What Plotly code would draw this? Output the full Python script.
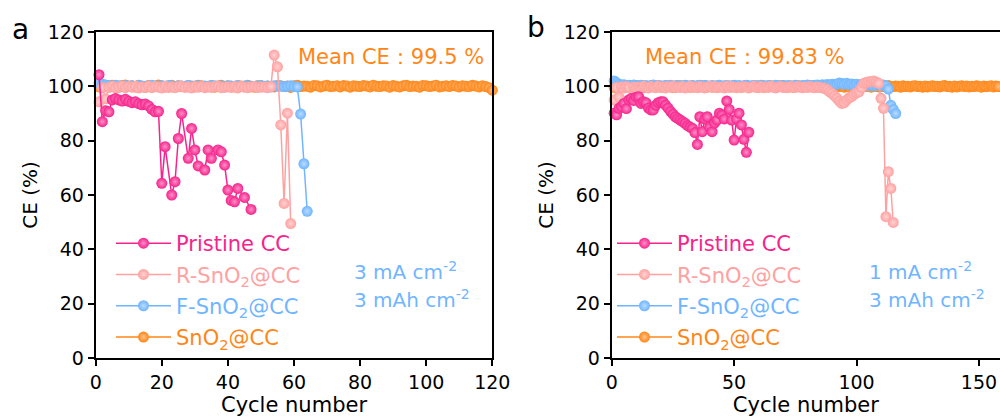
import plotly.graph_objects as go

# ---------------- data: panel a (3 mA cm-2, 3 mAh cm-2) ----------------
pristine_a_x = [1, 2, 3, 4, 5, 6, 7, 8, 9, 10, 11, 12, 13, 14, 15, 16, 17, 18, 19, 20, 21,
                23, 24, 25, 26, 28, 29, 30, 31, 33, 34, 35, 37, 38, 39, 40, 41, 42, 43, 45, 47]
pristine_a_y = [104.3, 87.0, 91.0, 90.6, 95.0, 95.5, 95.0, 94.6, 95.2, 94.5,
                94.0, 94.3, 93.6, 93.2, 93.5, 92.8, 91.5, 90.6, 90.8, 64.3,
                77.8, 60.0, 64.9, 80.8, 90.0, 73.5, 84.5, 76.6, 70.7, 69.2,
                76.6, 73.5, 76.6, 75.9, 71.0, 61.8, 58.0, 57.5, 62.4, 59.1, 54.7]

rsno2_a_y = [94.3, 99.5, 95.4, 99.6, 100.0, 99.4, 99.8, 100.1, 99.5, 99.9,
             99.7, 100.0, 99.4, 99.8, 99.6, 100.1, 99.5, 99.9, 99.7, 99.4,
             100.0, 99.6, 99.8, 99.5, 99.9, 100.1, 99.6, 99.8, 99.4, 99.9,
             99.7, 100.0, 99.5, 99.8, 99.6, 99.9, 100.0, 99.5, 99.7, 99.8,
             99.6, 99.9, 99.4, 100.0, 99.7, 99.5, 99.8, 99.9, 99.6, 99.7,
             99.8, 99.5, 99.9, 111.5, 107.2, 85.8, 56.9, 90.1, 49.5]

fsno2_a_y = [101.2, 100.8, 100.5, 100.3, 100.1, 100.4, 100.2, 100.0, 100.3, 100.1,
             100.2, 99.9, 100.3, 100.1, 100.0, 100.2, 100.4, 100.1, 99.9, 100.2,
             100.0, 100.3, 100.1, 99.8, 100.2, 100.1, 100.0, 100.3, 99.9, 100.1,
             100.2, 100.0, 100.1, 99.9, 100.3, 100.2, 100.0, 100.1, 99.8, 100.2,
             100.1, 100.0, 100.3, 99.9, 100.1, 100.2, 100.0, 99.9, 100.1, 100.2,
             100.0, 100.1, 99.8, 100.2, 100.0, 100.1, 99.9, 100.0, 100.2, 99.9,
             99.8, 89.8, 71.5, 54.0]

sno2_a_y = [99.8, 100.6, 100.2, 99.9, 100.4, 100.1, 99.7, 100.3, 100.5, 99.9,
            100.2, 99.8, 100.4, 100.0, 99.6, 100.3, 100.1, 99.9, 100.5, 100.2,
            99.8, 100.1, 100.4, 99.7, 100.2, 100.0, 99.9, 100.3, 100.1, 99.8,
            100.4, 100.2, 99.9, 100.0, 100.3, 99.7, 100.1, 100.4, 99.9, 100.2,
            100.0, 99.8, 100.3, 100.1, 99.9, 100.4, 100.0, 99.7, 100.2, 100.3,
            99.9, 100.1, 100.0, 99.8, 100.3, 100.2, 99.9, 100.1, 99.6, 100.2,
            100.4, 99.9, 100.1, 100.0, 99.7, 100.3, 100.2, 99.8, 100.1, 100.4,
            99.9, 100.0, 100.2, 99.8, 100.3, 100.1, 99.7, 100.2, 100.0, 99.9,
            100.3, 100.1, 99.8, 100.4, 100.0, 99.9, 100.2, 100.1, 99.7, 100.3,
            100.0, 99.8, 100.2, 100.4, 99.9, 100.1, 100.0, 99.7, 100.3, 100.2,
            99.9, 100.1, 100.4, 99.8, 100.0, 100.2, 99.9, 100.3, 100.1, 99.8,
            100.2, 100.0, 99.9, 100.4, 100.1, 99.8, 100.2, 99.9, 99.5, 98.6]

# ---------------- data: panel b (1 mA cm-2, 3 mAh cm-2) ----------------
pristine_b_y = [90.1, 89.5, 91.9, 92.5, 93.7, 91.8, 95.0, 95.5, 94.8, 96.0,
                96.2, 93.7, 94.3, 94.0, 92.0, 91.3, 91.3, 93.0, 94.0, 94.3,
                94.3, 93.1, 92.0, 90.8, 89.8, 88.8, 88.2, 87.6, 87.0, 86.4,
                85.5, 85.0, 84.5, 83.0, 78.6, 88.8, 83.3, 88.0, 88.8, 85.0,
                83.3, 86.5, 87.6, 90.1, 89.4, 88.0, 94.6, 91.5, 87.6, 80.2,
                88.0, 90.1, 85.8, 80.5, 75.7, 83.1]

rsno2_b_y = [95.0, 99.6, 96.0, 99.8, 99.4, 99.9, 99.5, 95.6, 99.7, 99.3,
             99.8, 99.5, 100.0, 99.6, 99.4, 99.9, 99.7, 99.5, 100.1, 99.6,
             99.8, 99.4, 99.9, 99.7, 100.0, 99.5, 99.8, 99.6, 99.9, 99.4,
             99.7, 100.0, 99.6, 99.8, 99.5, 99.9, 99.7, 99.4, 99.8, 100.0,
             99.6, 99.9, 99.5, 99.7, 99.8, 99.4, 100.0, 99.6, 99.9, 99.7,
             99.5, 99.8, 99.6, 99.9, 99.7, 99.4, 99.8, 100.0, 99.6, 99.7,
             99.9, 99.5, 99.8, 99.6, 100.0, 99.7, 99.4, 99.8, 99.9, 99.6,
             99.7, 99.5, 99.9, 99.8, 99.6, 100.0, 99.7, 99.5, 99.8, 99.6,
             99.9, 99.7, 99.5, 99.8, 99.6, 99.4, 99.3, 98.8, 98.0, 97.4,
             96.5, 95.6, 94.6, 93.7, 94.0, 95.0, 95.8, 96.2, 97.0, 97.6,
             98.0, 99.5, 101.1, 101.4, 101.7, 101.7, 102.0, 101.6, 101.1, 95.6,
             91.9, 52.0, 68.6, 62.4, 49.9]

fsno2_b_y = [102.0, 101.3, 100.8, 100.5, 100.6, 100.3, 100.4, 100.2, 100.5, 100.3,
             100.2, 100.4, 100.1, 100.3, 100.0, 100.2, 100.5, 100.1, 100.3, 100.2,
             100.0, 100.3, 100.2, 100.4, 100.1, 100.2, 100.0, 100.3, 100.1, 100.4,
             100.2, 100.1, 100.3, 100.0, 100.2, 100.4, 100.1, 100.3, 100.2, 100.0,
             100.3, 100.1, 100.2, 100.4, 100.0, 100.2, 100.3, 100.1, 100.2, 100.4,
             100.1, 100.3, 100.0, 100.2, 100.4, 100.1, 100.2, 100.3, 100.0, 100.2,
             100.4, 100.2, 100.1, 100.3, 100.2, 100.0, 100.4, 100.1, 100.3, 100.2,
             100.1, 100.3, 100.2, 100.0, 100.4, 100.2, 100.1, 100.3, 100.2, 100.5,
             100.3, 100.2, 100.4, 100.5, 100.3, 100.6, 100.4, 100.7, 100.5, 100.8,
             100.6, 100.9, 101.2, 101.0, 100.8, 101.1, 100.7, 100.9, 100.6, 100.8,
             100.5, 100.7, 100.4, 100.6, 100.3, 100.5, 100.2, 100.4, 100.6, 100.3,
             100.5, 100.2, 99.0, 93.0, 91.5, 90.0]

sno2_b_y = [99.6, 100.1, 99.8, 100.3, 99.9, 100.0, 99.7, 100.2, 99.8, 100.1,
            99.9, 100.3, 99.6, 100.0, 99.8, 100.2, 99.9, 99.7, 100.1, 100.0,
            99.8, 100.2, 99.9, 100.1, 99.6, 100.0, 100.3, 99.8, 99.9, 100.1,
            100.0, 99.7, 100.2, 99.9, 100.1, 99.8, 100.0, 100.3, 99.7, 99.9,
            100.1, 99.8, 100.0, 100.2, 99.9, 99.6, 100.1, 100.0, 99.8, 100.2,
            99.9, 100.0, 99.7, 100.1, 100.3, 99.8, 99.9, 100.0, 100.2, 99.7,
            100.0, 100.1, 99.8, 99.9, 100.2, 100.0, 99.7, 100.1, 99.9, 100.3,
            99.8, 100.0, 100.1, 99.7, 99.9, 100.2, 100.0, 99.8, 100.1, 99.9,
            100.2, 99.8, 100.0, 99.9, 100.3, 99.7, 100.1, 100.0, 99.8, 99.9,
            100.1, 100.2, 99.9, 100.0, 99.7, 100.1, 99.8, 100.3, 99.9, 100.0,
            99.8, 100.1, 100.0, 99.9, 100.2, 99.7, 100.0, 100.1, 99.8, 100.2,
            99.9, 100.0, 100.3, 99.8, 99.9, 100.1, 100.0, 99.7, 100.2, 99.9,
            100.0, 99.8, 100.1, 100.2, 99.9, 100.0, 99.7, 100.1, 99.8, 100.0,
            100.2, 99.9, 100.0, 99.8, 100.1, 100.3, 99.9, 100.0, 99.7, 100.1,
            99.8, 100.0, 100.2, 99.9, 100.1, 99.8, 100.0, 99.9, 100.2, 100.0,
            99.7, 100.1, 99.9, 100.0, 100.2, 99.8, 100.1, 99.9, 100.0, 99.8]

series_names = ["Pristine CC", "R-SnO<sub>2</sub>@CC", "F-SnO<sub>2</sub>@CC", "SnO<sub>2</sub>@CC"]
mean_ce_a = "Mean CE\uff1a99.5 %"
mean_ce_b = "Mean CE\uff1a99.83 %"
cond_a = ["3 mA cm<sup>-2</sup>", "3 mAh cm<sup>-2</sup>"]
cond_b = ["1 mA cm<sup>-2</sup>", "3 mAh cm<sup>-2</sup>"]

# ---------------- styling ----------------
COLORS = ["#F7228C", "#FFA1A1", "#6FB5FF", "#FF8616"]
TINTS = ["#FB91C6", "#FFD2D2", "#B9DBFF", "#FFC38C"]
FONT = "DejaVu Sans"
W, H = 1000, 419
T, B = 32, 61


def py(ypx):
    return (H - B - ypx) / (H - T - B)


fig = go.Figure()


def add_series(x, y, idx, xa, ya, legend):
    fig.add_trace(go.Scatter(
        x=x, y=y, mode="lines+markers", xaxis=xa, yaxis=ya,
        name='<span style="color:%s">%s</span>' % (COLORS[idx], series_names[idx]),
        legend=legend, legendgroup=legend + str(idx), legendrank=idx + 1,
        line=dict(color=COLORS[idx], width=1.5),
        marker=dict(size=11, color=COLORS[idx],
                    gradient=dict(type="radial", color=TINTS[idx])),
        cliponaxis=False,
    ))


def cyc(vals):
    return list(range(1, len(vals) + 1))


# draw order: SnO2, F, R, Pristine (pristine on top)
add_series(cyc(sno2_a_y), sno2_a_y, 3, "x", "y", "legend")
add_series(cyc(fsno2_a_y), fsno2_a_y, 2, "x", "y", "legend")
add_series(cyc(rsno2_a_y), rsno2_a_y, 1, "x", "y", "legend")
add_series(pristine_a_x, pristine_a_y, 0, "x", "y", "legend")

add_series(cyc(sno2_b_y), sno2_b_y, 3, "x2", "y2", "legend2")
add_series(cyc(fsno2_b_y), fsno2_b_y, 2, "x2", "y2", "legend2")
add_series(cyc(rsno2_b_y), rsno2_b_y, 1, "x2", "y2", "legend2")
add_series(cyc(pristine_b_y), pristine_b_y, 0, "x2", "y2", "legend2")

axis_common = dict(showline=True, linecolor="black", linewidth=2, ticks="outside",
                   ticklen=6, tickwidth=2, tickcolor="black", showgrid=False,
                   zeroline=False, tickfont=dict(family=FONT, size=19, color="black"),
                   automargin=False)

fig.update_layout(
    width=W, height=H,
    margin=dict(l=0, r=0, t=T, b=B),
    paper_bgcolor="white", plot_bgcolor="white",
    font=dict(family=FONT, color="black"),
    xaxis=dict(domain=[0.0957, 0.4923], range=[0, 120], dtick=20, mirror=True,
               title=dict(text="Cycle number", font=dict(family=FONT, size=21), standoff=2),
               anchor="y", **axis_common),
    yaxis=dict(domain=[0, 1], range=[0, 120], dtick=20, mirror=True,
               title=dict(text="CE (%)", font=dict(family=FONT, size=20), standoff=5),
               anchor="x", **axis_common),
    xaxis2=dict(domain=[0.6117, 1.0], range=[0, 158.6], dtick=50, mirror=True,
                title=dict(text="Cycle number", font=dict(family=FONT, size=21), standoff=2),
                anchor="y2", **axis_common),
    yaxis2=dict(domain=[0, 1], range=[0, 120], dtick=20, mirror=False,
                title=dict(text="CE (%)", font=dict(family=FONT, size=20), standoff=5),
                anchor="x2", **axis_common),
    legend=dict(x=0.111, y=py(223), xanchor="left", yanchor="top",
                traceorder="grouped", tracegroupgap=1, itemwidth=55,
                bgcolor="rgba(0,0,0,0)", font=dict(family=FONT, size=21)),
    legend2=dict(x=0.612, y=py(223), xanchor="left", yanchor="top",
                 traceorder="grouped", tracegroupgap=1, itemwidth=55,
                 bgcolor="rgba(0,0,0,0)", font=dict(family=FONT, size=21)),
    showlegend=True,
)

ann = []
ann.append(dict(text="a", x=0.020, y=py(29), xanchor="center", yanchor="middle",
                font=dict(family=FONT, size=28, color="black")))
ann.append(dict(text="b", x=0.536, y=py(27), xanchor="center", yanchor="middle",
                font=dict(family=FONT, size=28, color="black")))
ann.append(dict(text=mean_ce_a, x=0.296, y=py(57), xanchor="left", yanchor="middle",
                font=dict(family=FONT, size=21, color="#FF8616")))
ann.append(dict(text=mean_ce_b, x=0.643, y=py(57), xanchor="left", yanchor="middle",
                font=dict(family=FONT, size=21, color="#FF8616")))
for t, yy in zip(cond_a, [271, 299]):
    ann.append(dict(text=t, x=0.352, y=py(yy), xanchor="left", yanchor="middle",
                    font=dict(family=FONT, size=20, color="#6FB5FF")))
for t, yy in zip(cond_b, [271, 299]):
    ann.append(dict(text=t, x=0.867, y=py(yy), xanchor="left", yanchor="middle",
                    font=dict(family=FONT, size=20, color="#6FB5FF")))
for a in ann:
    a.update(xref="paper", yref="paper", showarrow=False)
fig.update_layout(annotations=ann)

fig.write_html("out.html")
